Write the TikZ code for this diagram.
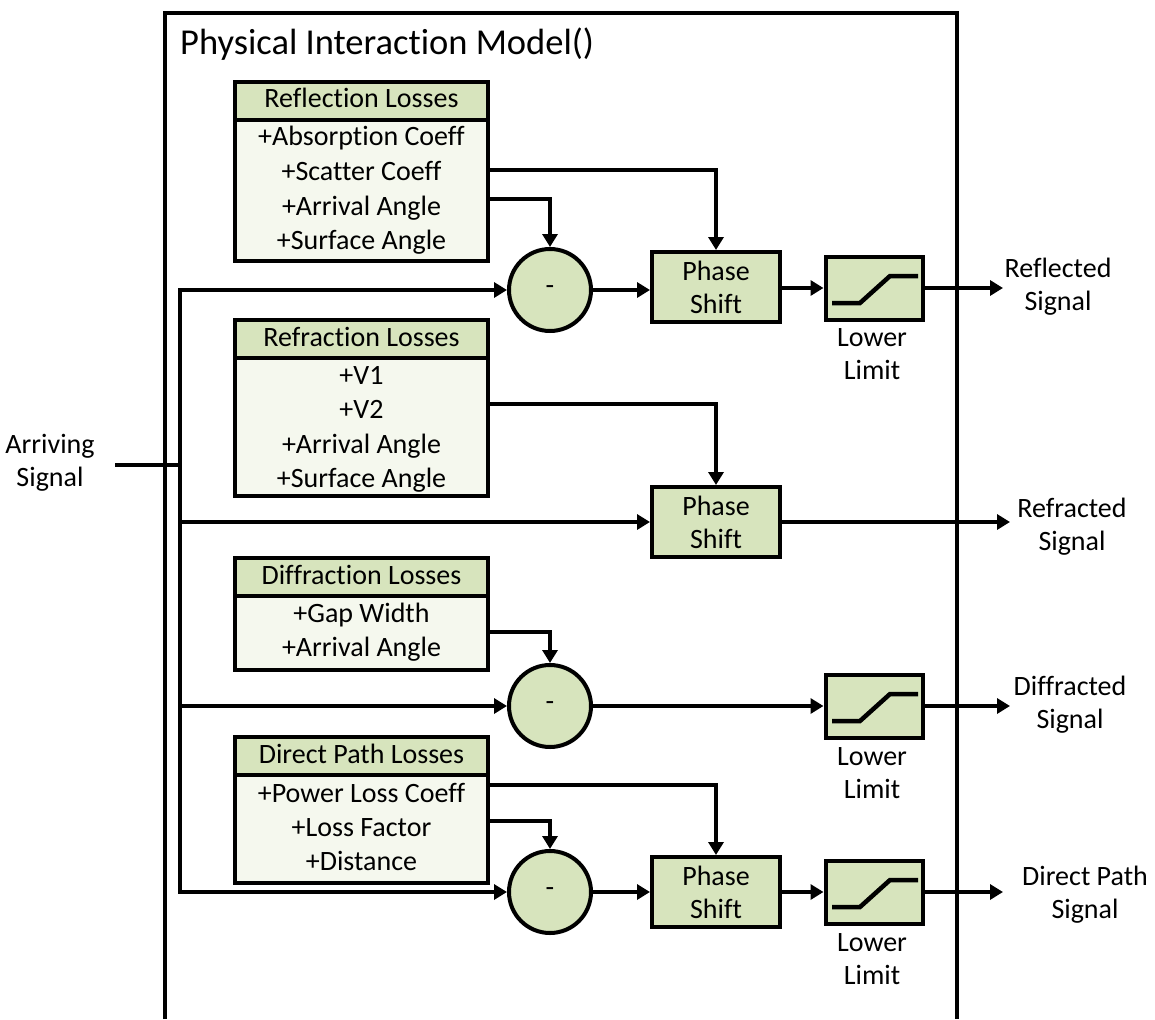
\documentclass[tikz,border=0pt]{standalone}
\usepackage{fontspec}
\setmainfont{Carlito}[Ligatures={NoCommon}]
\usetikzlibrary{arrows.meta}
\definecolor{hdr}{HTML}{D7E4BD}
\definecolor{bdy}{HTML}{F5F8EE}

\begin{document}
\begin{tikzpicture}[x=1pt,y=-1pt,
  every node/.style={font=\fontsize{28}{33}\selectfont, inner sep=0pt},
  lw/.style={line width=4pt},
  arr/.style={lw, -{Triangle[length=13pt,width=15pt]}},
  hdrbox/.style={draw, lw, fill=hdr, minimum width=253pt, minimum height=38pt, anchor=north},
  bdybox/.style={draw, lw, fill=bdy, minimum width=253pt, anchor=north},
  item/.style={anchor=base},
  sumnode/.style={circle, draw, lw, fill=hdr, minimum size=82pt},
  psbox/.style={draw, lw, fill=hdr, minimum width=128pt, minimum height=70pt, align=center},
  llbox/.style={draw, lw, fill=hdr, minimum width=97pt, minimum height=63pt},
  ramp/.style={line width=4.5pt},
  lbl/.style={align=center}
]
\useasboundingbox (0,0) rectangle (1155,1019);

% enclosing model frame (open at the bottom)
\draw[line width=3.5pt] (165,1019) -- (165,13) -- (957,13) -- (957,1019);
\node[anchor=base west, font=\fontsize{36.5}{40}\selectfont] (title) at (180,55) {Physical Interaction Model()};

% ---- Reflection Losses ----
\node[bdybox, minimum height=141pt] (refB) at (361.5,118) {};
\node[hdrbox] (refH) at (361.5,80) {};
\node[item] (refT) at (361.5,108) {Reflection Losses};
\node[item] (ref1) at (361.5,146) {+Absorption Coeff};
\node[item] (ref2) at (361.5,180) {+Scatter Coeff};
\node[item] (ref3) at (361.5,215) {+Arrival Angle};
\node[item] (ref4) at (361.5,249) {+Surface Angle};

% ---- Refraction Losses ----
\node[bdybox, minimum height=138pt] (rfrB) at (361.5,356) {};
\node[hdrbox] (rfrH) at (361.5,318) {};
\node[item] (rfrT) at (361.5,346) {Refraction Losses};
\node[item] (rfr1) at (361.5,384) {+V1};
\node[item] (rfr2) at (361.5,418) {+V2};
\node[item] (rfr3) at (361.5,453) {+Arrival Angle};
\node[item] (rfr4) at (361.5,487) {+Surface Angle};

% ---- Diffraction Losses ----
\node[bdybox, minimum height=74pt] (difB) at (361.5,594) {};
\node[hdrbox] (difH) at (361.5,556) {};
\node[item] (difT) at (361.5,584) {Diffraction Losses};
\node[item] (dif1) at (361.5,622) {+Gap Width};
\node[item] (dif2) at (361.5,656) {+Arrival Angle};

% ---- Direct Path Losses ----
\node[bdybox, minimum height=108pt] (dirB) at (361.5,773) {};
\node[hdrbox] (dirH) at (361.5,735) {};
\node[item] (dirT) at (361.5,763) {Direct Path Losses};
\node[item] (dir1) at (361.5,802) {+Power Loss Coeff};
\node[item] (dir2) at (361.5,836) {+Loss Factor};
\node[item] (dir3) at (361.5,870) {+Distance};

% ---- processing blocks ----
\node[sumnode] (c1) at (550,290) {-};
\node[psbox] (ps1) at (716,287) {Phase\\Shift};
\node[llbox] (ll1) at (874,288) {};
\draw[ramp, shift={(ll1.center)}] (-42,15) -- (-14,15) -- (16,-12) -- (44,-12);
\node[lbl] (ll1t) at (872,354) {Lower\\Limit};

\node[psbox] (ps2) at (716,522) {Phase\\Shift};

\node[sumnode] (c2) at (550,706) {-};
\node[llbox] (ll2) at (874,706) {};
\draw[ramp, shift={(ll2.center)}] (-42,15) -- (-14,15) -- (16,-12) -- (44,-12);
\node[lbl] (ll2t) at (872,773) {Lower\\Limit};

\node[sumnode] (c3) at (550,892) {-};
\node[psbox] (ps3) at (716,892) {Phase\\Shift};
\node[llbox] (ll3) at (874,892) {};
\draw[ramp, shift={(ll3.center)}] (-42,15) -- (-14,15) -- (16,-12) -- (44,-12);
\node[lbl] (ll3t) at (872,959) {Lower\\Limit};

% ---- signal labels ----
\node[lbl] (ain) at (50,463) {Arriving\\Signal};
\node[lbl] (o1) at (1058,287) {Reflected\\Signal};
\node[lbl] (o2) at (1072,527) {Refracted\\Signal};
\node[lbl] (o3) at (1070,705) {Diffracted\\Signal};
\node[lbl] (o4) at (1085,895) {Direct Path\\Signal};

% ---- input bus ----
\coordinate (b1) at (180,290);
\coordinate (b4) at (180,892);
\coordinate (ainE) at (115,465);
\draw[lw] (ainE) -- (ainE -| b1);
\draw[arr] (b4) -- (b1) -- (c1.west);
\draw[arr] (b1) -- (b4) -- (c3.west);
\draw[arr] (ps2.west -| b1) -- (ps2.west);
\draw[arr] (c2.west -| b1) -- (c2.west);

% ---- parameter feeds ----
\coordinate (f1) at (488,170);
\coordinate (f2) at (488,199);
\coordinate (f3) at (488,404);
\coordinate (f4) at (488,632);
\coordinate (f5) at (488,785);
\coordinate (f6) at (488,821);
\draw[arr] (f1) -| (ps1.north);
\draw[arr] (f2) -| (c1.north);
\draw[arr] (f3) -| (ps2.north);
\draw[arr] (f4) -| (c2.north);
\draw[arr] (f5) -| (ps3.north);
\draw[arr] (f6) -| (c3.north);

% ---- signal chain ----
\draw[arr] (c1.east) -- (ps1.west |- c1.east);
\draw[arr] (ps1.east |- ll1.west) -- (ll1.west);
\draw[arr] (c2.east) -- (ll2.west);
\draw[arr] (c3.east) -- (ps3.west);
\draw[arr] (ps3.east) -- (ll3.west);

% ---- outputs ----
\coordinate (e1) at (1003,288);
\coordinate (e2) at (1010,522);
\coordinate (e3) at (1010,706);
\coordinate (e4) at (1003,892);
\draw[arr] (ll1.east) -- (e1);
\draw[arr] (ps2.east) -- (e2);
\draw[arr] (ll2.east) -- (e3);
\draw[arr] (ll3.east) -- (e4);
\end{tikzpicture}
\end{document}
